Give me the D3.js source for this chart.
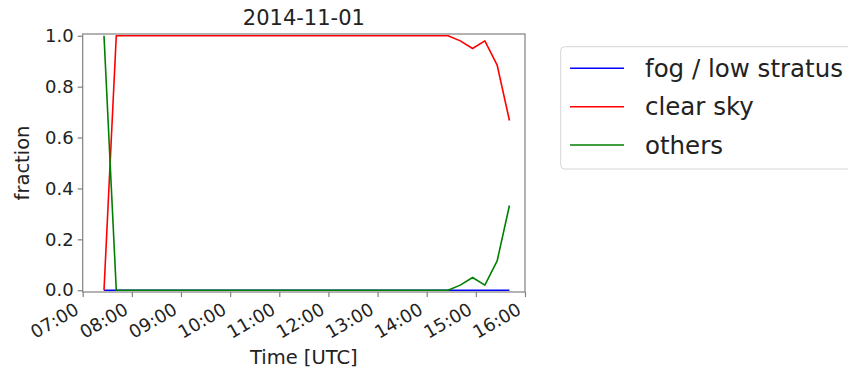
<!DOCTYPE html>
<html>
<head>
<meta charset="utf-8">
<script src="https://cdn.jsdelivr.net/npm/d3@7"></script>
<style>
  html, body { margin: 0; padding: 0; background: #fff; }
  svg { display: block; font-family: "DejaVu Sans", sans-serif; }
</style>
</head>
<body>
<svg id="chart" width="848" height="373"></svg>
<script>
const title = "2014-11-01";
const times = ["07:26","07:41","07:56","08:11","08:26","08:41","08:56","09:11","09:26","09:41",
               "09:56","10:11","10:26","10:41","10:56","11:11","11:26","11:41","11:56","12:11",
               "12:26","12:41","12:56","13:11","13:26","13:41","13:56","14:11","14:26","14:41",
               "14:56","15:11","15:26","15:41"];
const fogLowStratus = [0,0,0,0,0,0,0,0,0,0, 0,0,0,0,0,0,0,0,0,0, 0,0,0,0,0,0,0,0,0,0, 0,0,0,0];
const clearSky      = [0,1,1,1,1,1,1,1,1,1, 1,1,1,1,1,1,1,1,1,1, 1,1,1,1,1,1,1,1,1,0.98, 0.95,0.98,0.885,0.667];
const others        = [1,0,0,0,0,0,0,0,0,0, 0,0,0,0,0,0,0,0,0,0, 0,0,0,0,0,0,0,0,0,0.02, 0.05,0.02,0.115,0.333];
const seriesNames = ["fog / low stratus", "clear sky", "others"];
const seriesColors = ["#0000ff", "#ff0000", "#008000"];
const xTickLabels = ["07:00","08:00","09:00","10:00","11:00","12:00","13:00","14:00","15:00","16:00"];
const yTickValues = [0.0, 0.2, 0.4, 0.6, 0.8, 1.0];

const svg = d3.select("#chart");
const parse = d3.timeParse("%Y-%m-%d %H:%M");
const toDate = t => parse(title + " " + t);

const mLeft = 82.7, mRight = 525, mTop = 34, mBottom = 292;
const x = d3.scaleTime().domain([toDate("07:00"), toDate("16:00")]).range([mLeft, mRight]);
const y = d3.scaleLinear().domain([-0.007, 1.007]).range([mBottom, mTop]);

const textColor = "#222";
const spineColor = "#808080";

// lines
const allSeries = [fogLowStratus, clearSky, others];
const line = d3.line().x(d => x(d.t)).y(d => y(d.v));
allSeries.forEach((s, i) => {
  const data = times.map((t, k) => ({t: toDate(t), v: s[k]}));
  svg.append("path").datum(data)
    .attr("d", line)
    .attr("fill", "none")
    .attr("stroke", seriesColors[i])
    .attr("stroke-width", 1.6)
    .attr("stroke-linejoin", "round");
});

// frame
svg.append("rect").attr("x", mLeft).attr("y", mTop)
  .attr("width", mRight - mLeft).attr("height", mBottom - mTop)
  .attr("fill", "none").attr("stroke", spineColor).attr("stroke-width", 1.2);

// y axis
const yAxis = d3.axisLeft(y).tickValues(yTickValues).tickFormat(d3.format(".1f")).tickSize(5).tickPadding(4);
const gy = svg.append("g").attr("transform", `translate(${mLeft},0)`).call(yAxis);
gy.select(".domain").remove();
gy.selectAll(".tick line").attr("stroke", spineColor).attr("stroke-width", 1.2);
gy.selectAll(".tick text").attr("fill", textColor).style("font-size", "18px")
  .attr("font-family", "DejaVu Sans");

// x axis
const xTicks = xTickLabels.map(toDate);
const xAxis = d3.axisBottom(x).tickValues(xTicks).tickFormat(d3.timeFormat("%H:%M")).tickSize(5).tickPadding(0);
const gx = svg.append("g").attr("transform", `translate(0,${mBottom})`).call(xAxis);
gx.select(".domain").remove();
gx.selectAll(".tick line").attr("stroke", spineColor).attr("stroke-width", 1.2);
gx.selectAll(".tick text")
  .attr("fill", textColor).style("font-size", "18px").attr("font-family", "DejaVu Sans")
  .attr("text-anchor", "end")
  .attr("dy", null)
  .attr("y", 0)
  .attr("transform", "translate(-3,21) rotate(-30)");

// title & labels
svg.append("text").attr("x", (mLeft + mRight) / 2).attr("y", 25)
  .attr("text-anchor", "middle").attr("fill", textColor).style("font-size", "21px")
  .text(title);
svg.append("text").attr("x", (mLeft + mRight) / 2).attr("y", 364)
  .attr("text-anchor", "middle").attr("fill", textColor).style("font-size", "19.5px")
  .text("Time [UTC]");
svg.append("text").attr("transform", `translate(29,${(mTop + mBottom) / 2}) rotate(-90)`)
  .attr("text-anchor", "middle").attr("fill", textColor).style("font-size", "19.5px")
  .text("fraction");

// legend
const lg = svg.append("g");
lg.append("rect").attr("x", 560.7).attr("y", 46.7).attr("width", 300).attr("height", 122.3)
  .attr("rx", 4).attr("fill", "#fff").attr("stroke", "#d6d6d6").attr("stroke-width", 1);
const rowY = [68.3, 106.7, 145];
seriesNames.forEach((n, i) => {
  lg.append("line").attr("x1", 570).attr("x2", 624).attr("y1", rowY[i]).attr("y2", rowY[i])
    .attr("stroke", seriesColors[i]).attr("stroke-width", 1.6);
  lg.append("text").attr("x", 645).attr("y", rowY[i]).attr("dy", "0.35em")
    .attr("fill", textColor).style("font-size", "24.5px").text(n);
});
</script>
</body>
</html>
